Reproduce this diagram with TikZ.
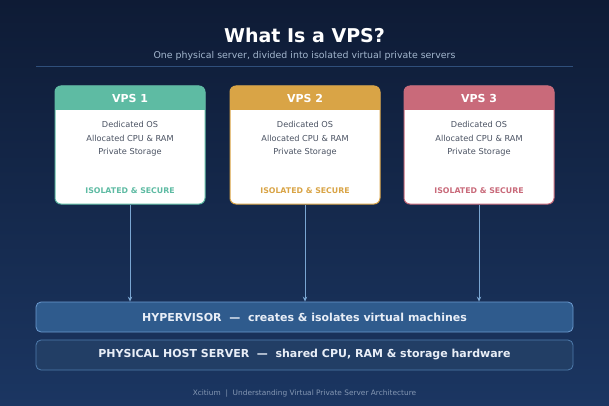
\documentclass[tikz,border=0pt]{standalone}
\usepackage{fontspec}
\setmainfont{DejaVu Sans}
\usetikzlibrary{arrows.meta,calc}
\definecolor{bgtop}{HTML}{0E1B35}
\definecolor{bgbot}{HTML}{1B3662}
\definecolor{teal}{HTML}{5EBBA3}
\definecolor{gold}{HTML}{D9A446}
\definecolor{rose}{HTML}{C96A7A}
\definecolor{bodytxt}{HTML}{4A5262}
\definecolor{arrowc}{HTML}{7AA6D2}
\definecolor{hypfill}{HTML}{2F5B8D}
\definecolor{hypdraw}{HTML}{6C9BD0}
\definecolor{physfill}{HTML}{223E65}
\definecolor{physdraw}{HTML}{4F7CAD}
\definecolor{lighttxt}{HTML}{E8EEF7}
\definecolor{subtxt}{HTML}{A3B6CE}
\definecolor{rulec}{HTML}{2F4F7B}
\definecolor{foottxt}{HTML}{8497B3}
\tikzset{
  vpsbox/.style={draw=#1, line width=1pt, fill=white, rounded corners=6pt, minimum width=150pt, minimum height=118pt, inner sep=0pt},
  headtxt/.style={text=white, font=\bfseries\fontsize{11}{13}\selectfont},
  bodyline/.style={text=bodytxt, font=\fontsize{8.2}{10}\selectfont},
  tagtxt/.style={font=\bfseries\fontsize{7.8}{9}\selectfont},
  layerbox/.style={rounded corners=5pt, line width=0.8pt, minimum width=537pt, minimum height=30pt, inner sep=0pt, text=lighttxt, font=\bfseries\fontsize{11}{13}\selectfont},
  link/.style={draw=arrowc, line width=1pt, -{Stealth[length=5pt,width=4.5pt]}}
}
\begin{document}
\begin{tikzpicture}[x=1pt,y=-1pt]
\shade[top color=bgtop, bottom color=bgbot] (0,0) rectangle (609,406);
\useasboundingbox (0,0) rectangle (609,406);
\node[text=white, font=\bfseries\fontsize{19}{22}\selectfont] (title) at (304.5,35) {What Is a VPS?};
\node[text=subtxt, font=\fontsize{9.4}{11}\selectfont] (sub) at (304.5,56) {One physical server, divided into isolated virtual private servers};
\coordinate (rl) at (36,66);
\coordinate (rr) at (573,66);
\draw[rulec, line width=0.8pt] (rl) -- (rr);
% VPS boxes
\foreach \i/\cx/\col in {1/130/teal,2/305/gold,3/479/rose}{
  \node[vpsbox=\col] (v\i) at (\cx,145) {};
  \fill[\col] ($(v\i.south west)+(0.5,-94.5)$) {[rounded corners=5.5pt] -- ($(v\i.north west)+(0.5,0.5)$) -- ($(v\i.north east)+(-0.5,0.5)$)} -- ($(v\i.south east)+(-0.5,-94.5)$) -- cycle;
  \node[headtxt] (h\i) at (\cx,98) {VPS \i};
  \node[bodyline] (a\i) at (\cx,124) {Dedicated OS};
  \node[bodyline] (b\i) at (\cx,138) {Allocated CPU \& RAM};
  \node[bodyline] (c\i) at (\cx,152) {Private Storage};
  \node[tagtxt, text=\col] (t\i) at (\cx,191) {ISOLATED \& SECURE};
}
% layers
\node[layerbox, fill=hypfill, draw=hypdraw] (hyp) at (304.5,317) {HYPERVISOR\ \ —\ \ creates \& isolates virtual machines};
\node[layerbox, fill=physfill, draw=physdraw] (phys) at (304.5,355) {PHYSICAL HOST SERVER\ \ —\ \ shared CPU, RAM \& storage hardware};
\foreach \i in {1,2,3}{
  \draw[link] (v\i.south) -- (v\i.south |- hyp.north);
}
\node[text=foottxt, font=\fontsize{7.4}{9}\selectfont] (foot) at (304.5,394) {Xcitium\ \ |\ \ Understanding Virtual Private Server Architecture};
\end{tikzpicture}
\end{document}
